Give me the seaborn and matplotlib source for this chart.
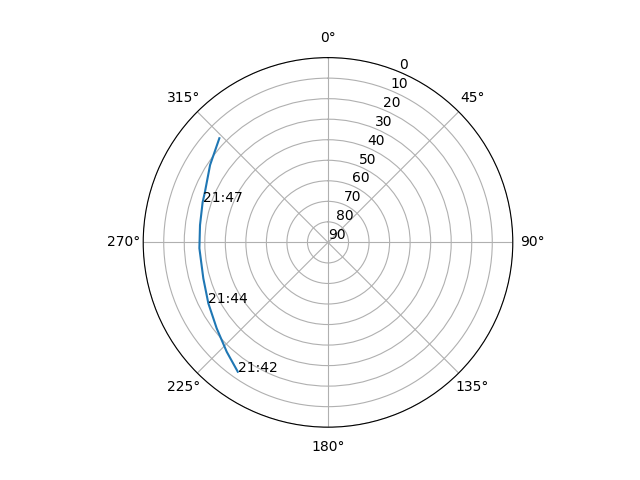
import numpy as np
import matplotlib
matplotlib.use("Agg")
import matplotlib.pyplot as plt
import seaborn as sns

# pass track (azimuth deg, elevation deg)
azimuth = [214.9, 222.8, 232.3, 243.0, 253.9, 267.4, 277.7, 287.7, 292.4, 303.3, 313.8]
elevation = [13.2, 17.4, 21.5, 24.6, 26.8, 27.3, 27.1, 25.9, 25.2, 21.3, 16.7]
time_labels = ["21:42", "", "", "21:44", "", "", "", "21:47", "", "", ""]
r_ticks = list(range(0, 91, 10))

fig = plt.figure(figsize=(6.4, 4.8), dpi=100)
ax = fig.add_subplot(projection="polar")
ax.set_theta_zero_location("N")
ax.set_theta_direction(-1)

theta = np.radians(azimuth)
sns.lineplot(x=theta, y=elevation, ax=ax, sort=False, estimator=None)

for t, r, lab in zip(theta, elevation, time_labels):
    if lab:
        ax.text(t, r, lab)

ax.set_ylim(90, 0)
ax.set_yticks(r_ticks)
ax.set_xlabel("")
ax.set_ylabel("")
ax.grid(True)

fig.savefig("out.png", dpi=100)
